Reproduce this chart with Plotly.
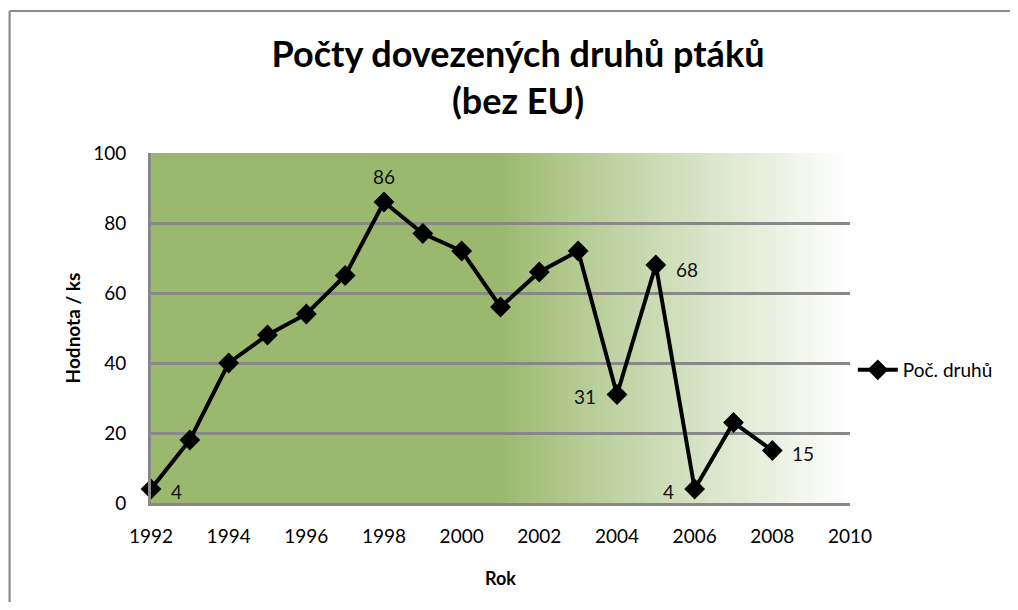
import plotly.graph_objects as go

years = list(range(1992, 2009))
values = [4, 18, 40, 48, 54, 65, 86, 77, 72, 56, 66, 72, 31, 68, 4, 23, 15]
# data labels shown in the chart: year -> (x shift px, y shift px)
label_shift = {1992: (25, -2), 1998: (0, 26), 2004: (-32, -2),
               2005: (31, -4), 2006: (-26, -2), 2008: (31, -3)}
x_ticks = list(range(1992, 2011, 2))
y_ticks = list(range(0, 101, 20))

FONT = "Lato"
W, H = 1002, 594          # page adds 8px body margin
L, R, T, B = 143, 157, 145, 99
pw, ph = W - L - R, H - T - B

fig = go.Figure()
fig.add_trace(go.Scatter(
    x=years, y=values, mode="lines+markers", name="Poč. druhů",
    line=dict(color="black", width=4),
    marker=dict(symbol="diamond", size=16, color="black"),
    cliponaxis=False,
))

annotations = []
for yr, v in zip(years, values):
    if yr in label_shift:
        dx, dy = label_shift[yr]
        annotations.append(dict(x=yr, y=v, xref="x", yref="y", text=str(v), showarrow=False,
                                xshift=dx, yshift=dy,
                                font=dict(family=FONT, size=19, color="#111")))

# gradient background: solid green then fading to white
shapes = []
g = (155, 185, 110)
start = 0.503
shapes.append(dict(type="rect", xref="paper", yref="paper", x0=0, x1=start + 0.002, y0=0, y1=1,
                   fillcolor="rgb(%d,%d,%d)" % g, line=dict(width=0), layer="below"))
n = 80
for i in range(n):
    a = start + (1 - start) * i / n
    b = start + (1 - start) * (i + 1) / n
    t = ((i + 0.5) / n) ** 0.9
    c = tuple(round(g[k] + (255 - g[k]) * t) for k in range(3))
    shapes.append(dict(type="rect", xref="paper", yref="paper", x0=a, x1=b + 0.001, y0=0, y1=1,
                       fillcolor="rgb(%d,%d,%d)" % c, line=dict(width=0), layer="below"))
# outer chart frame (top and left edges; the others fall outside the picture)
fx0 = (1.0 - L) / pw
fy1 = (H - B - 3) / ph
shapes.append(dict(type="line", xref="paper", yref="paper", x0=fx0, x1=1.6, y0=fy1, y1=fy1,
                   line=dict(color="#8a8a8a", width=2.2), layer="below"))
shapes.append(dict(type="line", xref="paper", yref="paper", x0=fx0, x1=fx0, y0=-0.6, y1=fy1,
                   line=dict(color="#8a8a8a", width=2.2), layer="below"))

fig.update_layout(
    width=W, height=H,
    margin=dict(l=L, r=R, t=T, b=B),
    paper_bgcolor="white", plot_bgcolor="white",
    shapes=shapes, annotations=annotations,
    title=dict(text="<b>Počty dovezených druhů ptáků<br>(bez EU)</b>",
               x=(518 - 8) / W, xanchor="center", y=1 - 59 / H, yanchor="middle",
               font=dict(family=FONT, size=36, color="black")),
    showlegend=True,
    legend=dict(x=1.004, y=0.38, xanchor="left", yanchor="middle",
                font=dict(family=FONT, size=19, color="black"),
                bgcolor="rgba(0,0,0,0)", itemwidth=40),
    font=dict(family=FONT, color="black"),
)
fig.update_xaxes(range=[1992, 2010], tickvals=x_ticks, ticktext=[str(v) for v in x_ticks],
                 showgrid=False, zeroline=False, showline=True, linecolor="#888", linewidth=3,
                 ticks="", ticklabelstandoff=14, tickfont=dict(family=FONT, size=19, color="black"),
                 title=dict(text="<b>Rok</b>", font=dict(family=FONT, size=18), standoff=27))
fig.update_yaxes(range=[0, 100], tickvals=y_ticks, showgrid=True, gridcolor="#888", gridwidth=2.5,
                 zeroline=False, showline=True, linecolor="#888", linewidth=3,
                 ticks="", ticklabelstandoff=18, tickfont=dict(family=FONT, size=19, color="black"),
                 title=dict(text="<b>Hodnota / ks</b>", font=dict(family=FONT, size=19), standoff=8))

fig.write_html("out.html")
